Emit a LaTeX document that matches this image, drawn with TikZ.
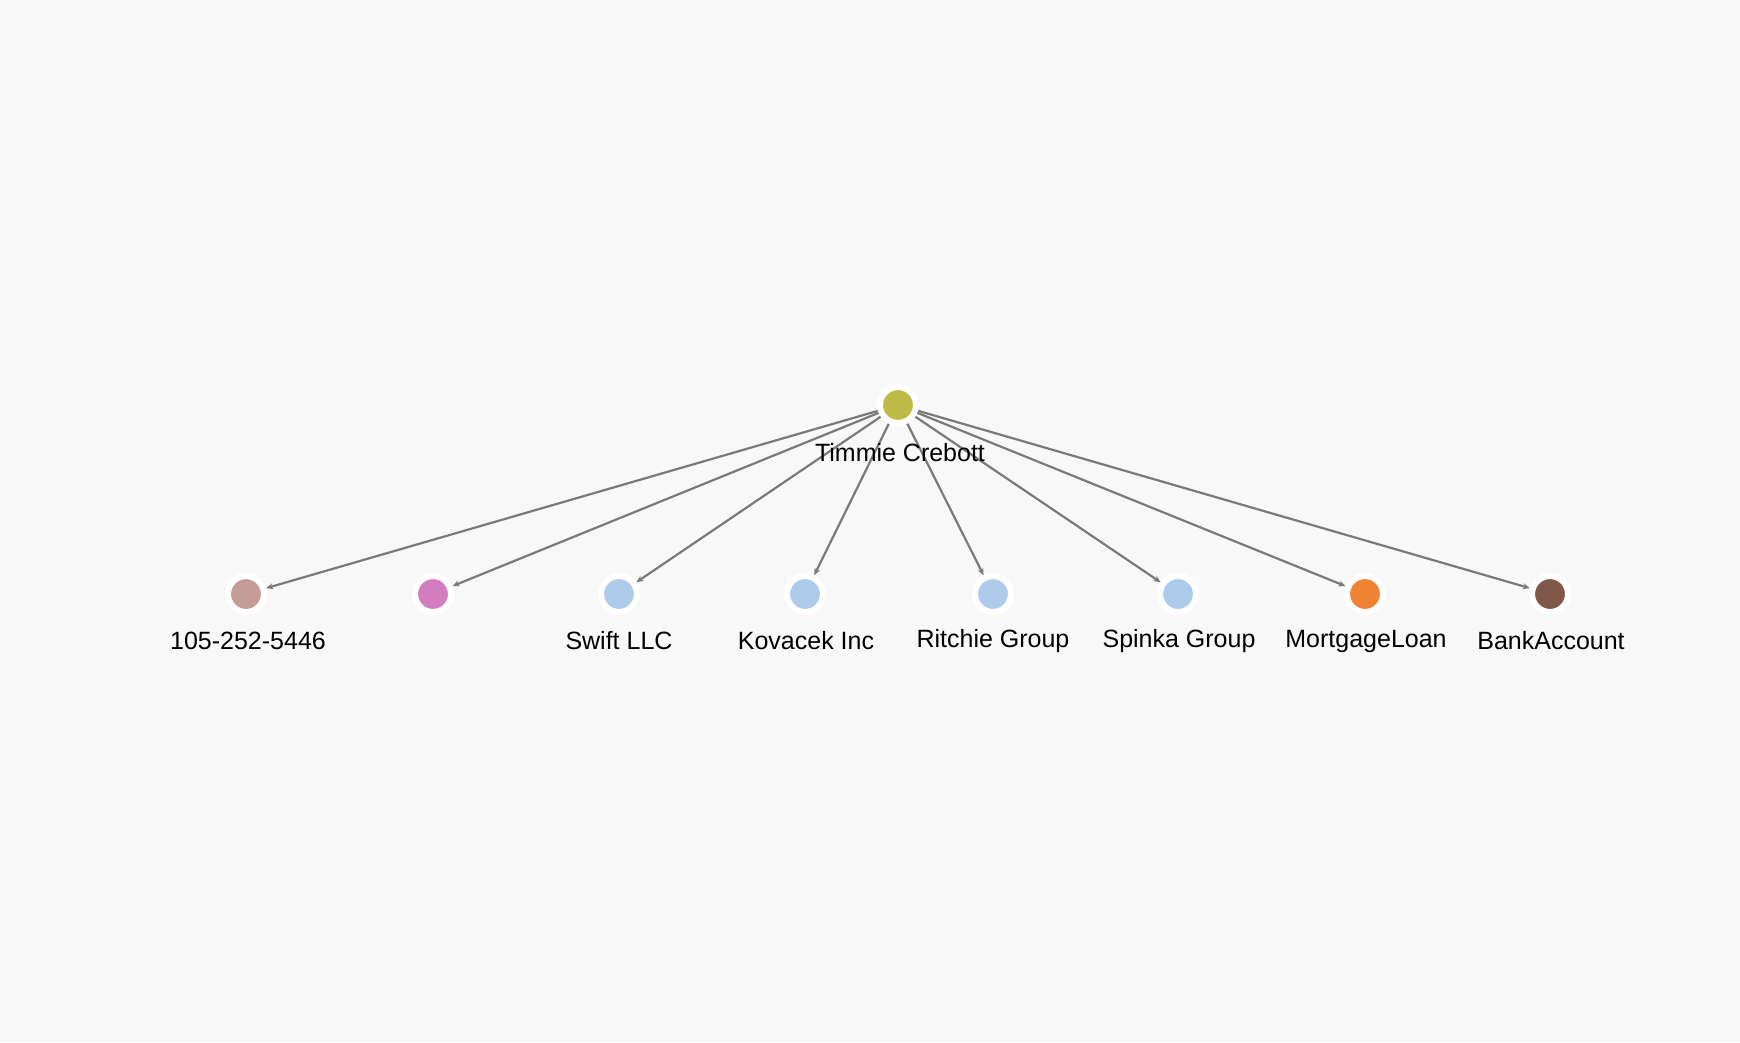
\documentclass[tikz,border=0pt]{standalone}
\usepackage{fontspec}
\setmainfont{Liberation Sans}
\usetikzlibrary{arrows.meta}
\definecolor{bg}{HTML}{F8F8F8}
\definecolor{n0}{HTML}{BDBB45}
\definecolor{n1}{HTML}{C49C98}
\definecolor{n2}{HTML}{D47DBE}
\definecolor{n3}{HTML}{AFCBEB}
\definecolor{n7}{HTML}{F08233}
\definecolor{n8}{HTML}{80584A}
\begin{document}
\begin{tikzpicture}[x=1pt,y=-1pt,
  vert/.style={circle,draw=white,line width=6pt,minimum size=36pt,inner sep=0pt,fill=#1},
  lbl/.style={font=\fontsize{25}{28}\selectfont,text=black},
  edge/.style={draw=black!52,line width=2.2pt,-{Stealth[length=7pt,width=6pt]}}]
\fill[bg] (0,0) rectangle (1740,1042);
\useasboundingbox (0,0) rectangle (1740,1042);
\node[vert=n0] (c) at (898,405) {};
\node[vert=n1] (a1) at (246,594) {};
\node[vert=n2] (a2) at (433,594) {};
\node[vert=n3] (a3) at (619,594) {};
\node[vert=n3] (a4) at (805,594) {};
\node[vert=n3] (a5) at (993,594) {};
\node[vert=n3] (a6) at (1178,594) {};
\node[vert=n7] (a7) at (1365,594) {};
\node[vert=n8] (a8) at (1550,594) {};
\foreach \i in {1,...,8} \draw[edge] (c) -- (a\i);
\node[lbl] (tc) at (900,453) {Timmie Crebott};
\node[lbl] (l1) at (248,641) {105-252-5446};
\node[lbl] (l3) at (619,641) {Swift LLC};
\node[lbl] (l4) at (806,641) {Kovacek Inc};
\node[lbl] (l5) at (993,641) {Ritchie Group};
\node[lbl] (l6) at (1179,641) {Spinka Group};
\node[lbl] (l7) at (1366,641) {MortgageLoan};
\node[lbl] (l8) at (1551,641) {BankAccount};
\end{tikzpicture}
\end{document}
